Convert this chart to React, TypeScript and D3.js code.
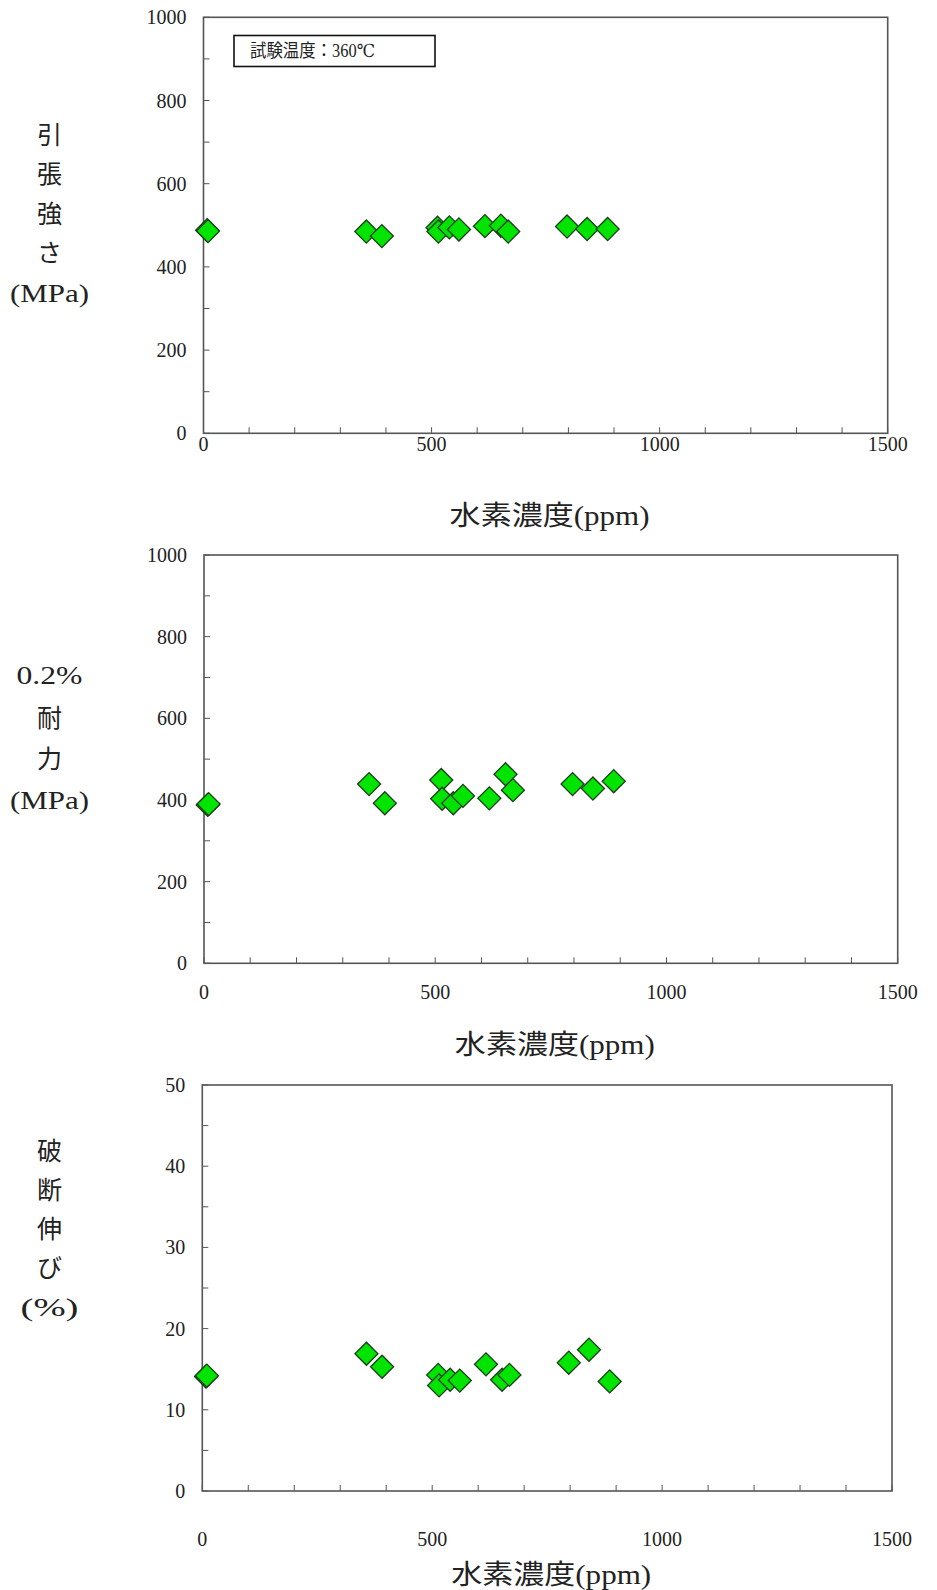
import React from 'react';
import * as d3 from 'd3';

// ---- data ----
const hydrogenPpm = [8, 10, 357, 391, 513, 515, 539, 560, 617, 652, 668, 797, 841, 886];
const tensileMPa = [488, 486, 485, 474, 494, 485, 495, 490, 498, 499, 485, 497, 491, 491];
const yieldMPa = [388, 390, 439, 392, 449, 403, 392, 410, 404, 463, 424, 439, 428, 446];
const elongationPct = [14.1, 14.2, 16.9, 15.3, 14.3, 13.0, 13.7, 13.6, 15.6, 13.7, 14.3, 15.8, 17.4, 13.5];

const xTickLabels = [0, 500, 1000, 1500];
const mpaTickLabels = [0, 200, 400, 600, 800, 1000];
const pctTickLabels = [0, 10, 20, 30, 40, 50];

const xTitle = '水素濃度(ppm)';
const legendText = '試験温度：360℃';
const yTitle1 = ['引', '張', '強', 'さ', '(MPa)'];
const yTitle2 = ['0.2%', '耐', '力', '(MPa)'];
const yTitle3 = ['破', '断', '伸', 'び', '(%)'];

const SERIF = "'Liberation Serif', 'Times New Roman', 'DejaVu Serif', 'Noto Sans CJK JP', serif";
const TEXT = '#222';
const FRAME = '#555';

type PanelProps = {
  values: number[];
  left: number; right: number; top: number; bottom: number;
  yMax: number; yMinor: number; yTicks: number[];
  tickLabelY: number; titleY: number;
  yTitle: string[]; yTitleYs: number[]; yTitleWidths: Record<string, number>;
  legend?: boolean;
};

function Panel(p: PanelProps) {
  const x = d3.scaleLinear().domain([0, 1500]).range([p.left, p.right]);
  const y = d3.scaleLinear().domain([0, p.yMax]).range([p.bottom, p.top]);
  const xMinor = d3.range(0, 1501, 100);
  const yMinorTicks = d3.range(0, p.yMax + 0.001, p.yMinor);
  const diamond = d3.symbol().type(d3.symbolSquare).size(265)();
  const tick = 6;
  const txt = { fontFamily: SERIF } as React.CSSProperties;
  return (
    <g>
      {xMinor.map((v) => (
        <line key={'xt' + v} x1={x(v)} x2={x(v)} y1={p.bottom} y2={p.bottom - tick} stroke={FRAME} strokeWidth={1} />
      ))}
      {yMinorTicks.map((v) => (
        <line key={'yt' + v} x1={p.left} x2={p.left + tick} y1={y(v)} y2={y(v)} stroke={FRAME} strokeWidth={1} />
      ))}
      <rect x={p.left} y={p.top} width={p.right - p.left} height={p.bottom - p.top} fill="none" stroke={FRAME} strokeWidth={1.6} />
      {p.yTicks.map((v) => (
        <text key={'yl' + v} x={p.left - 17} y={y(v)} textAnchor="end" dominantBaseline="central"
          style={txt} fontSize={20} fill={TEXT}>{v}</text>
      ))}
      {xTickLabels.map((v) => (
        <text key={'xl' + v} x={x(v)} y={p.tickLabelY} textAnchor="middle" dominantBaseline="central"
          style={txt} fontSize={20} fill={TEXT}>{v}</text>
      ))}
      <text x={(p.left + p.right) / 2 + 4} y={p.titleY} textAnchor="middle" dominantBaseline="central"
        style={txt} fontSize={27} fill={TEXT} textLength={200} lengthAdjust="spacingAndGlyphs">{xTitle}</text>
      {p.yTitle.map((s, i) => (
        <text key={'yT' + i} x={49.5} y={p.yTitleYs[i]} textAnchor="middle" dominantBaseline="central"
          style={txt} fontSize={25} fill={TEXT}
          {...(p.yTitleWidths[s] ? { textLength: p.yTitleWidths[s], lengthAdjust: 'spacingAndGlyphs' } : {})}>{s}</text>
      ))}
      {p.legend && (
        <g>
          <rect x={234} y={35.5} width={201} height={31} fill="#fff" stroke="#111" strokeWidth={1.6} />
          <text x={250} y={51} dominantBaseline="central" style={txt} fontSize={18} fill={TEXT}
            textLength={125} lengthAdjust="spacingAndGlyphs">{legendText}</text>
        </g>
      )}
      {hydrogenPpm.map((h, i) => (
        <path key={'m' + i} d={diamond || ''} transform={`translate(${x(h)},${y(p.values[i])}) rotate(45)`}
          fill="#00e400" stroke="#1c3d1c" strokeWidth={1.3} />
      ))}
    </g>
  );
}

export default function App() {
  return (
    <svg width={937} height={1590} style={{ position: 'absolute', left: 0, top: 0, background: '#fff' }}>
      <rect x={0} y={0} width={937} height={1590} fill="#fff" />
      <Panel values={tensileMPa} left={203.5} right={887.7} top={17.3} bottom={433.3}
        yMax={1000} yMinor={100} yTicks={mpaTickLabels} tickLabelY={444} titleY={516}
        yTitle={yTitle1} yTitleYs={[135, 174.5, 214, 253.5, 293]} yTitleWidths={{ '(MPa)': 79 }} legend />
      <Panel values={yieldMPa} left={204} right={897.7} top={555} bottom={963.3}
        yMax={1000} yMinor={100} yTicks={mpaTickLabels} tickLabelY={991.5} titleY={1045}
        yTitle={yTitle2} yTitleYs={[675, 718, 759.5, 800]} yTitleWidths={{ '0.2%': 66, '(MPa)': 79 }} />
      <Panel values={elongationPct} left={202.3} right={892} top={1085} bottom={1491}
        yMax={50} yMinor={5} yTicks={pctTickLabels} tickLabelY={1539} titleY={1575}
        yTitle={yTitle3} yTitleYs={[1151, 1190, 1229, 1268, 1307]} yTitleWidths={{ '(%)': 58 }} />
    </svg>
  );
}
